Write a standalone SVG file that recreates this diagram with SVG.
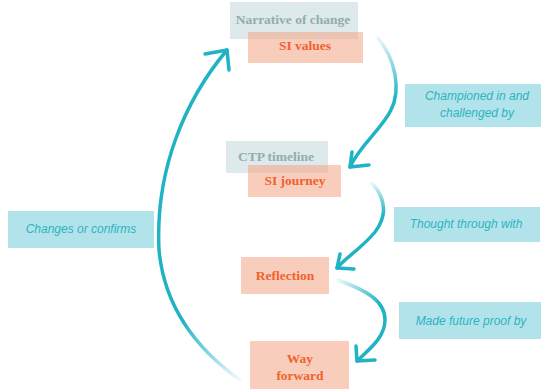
<svg xmlns="http://www.w3.org/2000/svg" width="541" height="389" viewBox="0 0 541 389">
<style>
.grey{fill:#dde9ea}
.org{fill:#f4a483;fill-opacity:0.55}
.lbl{fill:#b3e3ea}
.gt{font-family:"Liberation Serif",serif;font-weight:bold;font-size:13.5px;fill:#93aeac;text-anchor:middle}
.ot{font-family:"Liberation Serif",serif;font-weight:bold;font-size:13.5px;fill:#f0622d;text-anchor:middle}
.it{font-family:"Liberation Sans",sans-serif;font-style:italic;font-size:12px;fill:#2bb3c3;text-anchor:middle}
.arr{fill:none;stroke-width:3.5;stroke-linecap:round;stroke-linejoin:round}
.hd{fill:none;stroke:#1fb3c4;stroke-width:3.5;stroke-linecap:round}
</style>
<defs>
<linearGradient id="g1" gradientUnits="userSpaceOnUse" x1="378" y1="38" x2="390" y2="100"><stop offset="0" stop-color="#1fb3c4" stop-opacity="0.1"/><stop offset="1" stop-color="#1fb3c4"/></linearGradient>
<linearGradient id="g2" gradientUnits="userSpaceOnUse" x1="372" y1="183" x2="385" y2="215"><stop offset="0" stop-color="#1fb3c4" stop-opacity="0.1"/><stop offset="1" stop-color="#1fb3c4"/></linearGradient>
<linearGradient id="g3" gradientUnits="userSpaceOnUse" x1="338" y1="280" x2="380" y2="305"><stop offset="0" stop-color="#1fb3c4" stop-opacity="0.1"/><stop offset="1" stop-color="#1fb3c4"/></linearGradient>
<linearGradient id="g4" gradientUnits="userSpaceOnUse" x1="240" y1="380" x2="185" y2="320"><stop offset="0" stop-color="#1fb3c4" stop-opacity="0.05"/><stop offset="1" stop-color="#1fb3c4"/></linearGradient>
</defs>
<g id="connectors">
<path class="arr" stroke="url(#g1)" d="M378,38 C396,60 401,90 391,110 C381,130 360,145 350,167"/>
<path class="hd" d="M350,167 L352,152 M350,167 L369,165"/>
<path class="arr" stroke="url(#g2)" d="M372,183 C385,198 388,215 375,232 C362,248 345,258 337,268"/>
<path class="hd" d="M337,268 L340,254 M337,268 L354,269"/>
<path class="arr" stroke="url(#g3)" d="M338,280 C365,290 385,300 385,320 C385,338 368,350 357,361"/>
<path class="hd" d="M357,361 L356,346 M357,361 L375,360"/>
<path class="arr" stroke="url(#g4)" d="M240,380 C205,355 165,315 159,250 C155,170 185,100 227,50"/>
<path class="hd" d="M227,50 L205,54 M227,50 L229,70"/>
</g>
<g id="node-si-values">
<rect class="grey" x="230" y="2" width="128" height="37"/>
<text class="gt" x="293" y="24">Narrative of change</text>
<rect class="org" x="248" y="32" width="115" height="31"/>
<text class="ot" x="305" y="50">SI values</text>
</g>
<g id="node-si-journey">
<rect class="grey" x="226" y="141" width="102" height="32"/>
<text class="gt" x="276" y="161">CTP timeline</text>
<rect class="org" x="248" y="165" width="93" height="32"/>
<text class="ot" x="295" y="185">SI journey</text>
</g>
<g id="node-reflection">
<rect class="org" x="241" y="257" width="88" height="37"/>
<text class="ot" x="285" y="280">Reflection</text>
</g>
<g id="node-way-forward">
<rect class="org" x="250" y="341" width="99" height="48"/>
<text class="ot" x="300" y="363">Way</text>
<text class="ot" x="300" y="380">forward</text>
</g>
<g id="label-championed">
<rect class="lbl" x="405" y="84" width="136" height="43"/>
<text class="it" x="477" y="100">Championed in and</text>
<text class="it" x="477" y="117">challenged by</text>
</g>
<g id="label-thought">
<rect class="lbl" x="394" y="207" width="146" height="35"/>
<text class="it" x="466" y="228">Thought through with</text>
</g>
<g id="label-future">
<rect class="lbl" x="399" y="302" width="142" height="37"/>
<text class="it" x="471" y="325">Made future proof by</text>
</g>
<g id="label-changes">
<rect class="lbl" x="8" y="211" width="146" height="37"/>
<text class="it" x="81" y="233">Changes or confirms</text>
</g>
</svg>
